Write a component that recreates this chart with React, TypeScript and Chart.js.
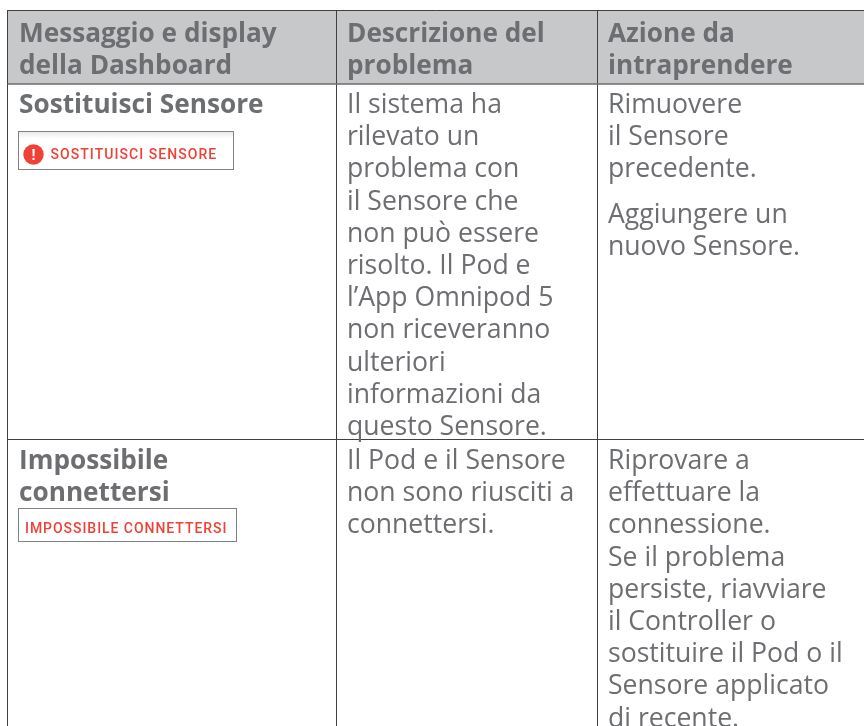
import React, { useEffect, useRef } from "react";
import { Chart, registerables } from "chart.js";

Chart.register(...registerables);

const headerLines = [
  ["Messaggio e display", "della Dashboard"],
  ["Descrizione del", "problema"],
  ["Azione da", "intraprendere"],
];
const row1Title = ["Sostituisci Sensore"];
const row1Description = [
  "Il sistema ha", "rilevato un", "problema con", "il Sensore che", "non può essere",
  "risolto. Il Pod e", "l’App Omnipod 5", "non riceveranno", "ulteriori",
  "informazioni da", "questo Sensore.",
];
const row1ActionA = ["Rimuovere", "il Sensore", "precedente."];
const row1ActionB = ["Aggiungere un", "nuovo Sensore."];
const row1Badge = "SOSTITUISCI SENSORE";
const row2Title = ["Impossibile", "connettersi"];
const row2Description = ["Il Pod e il Sensore", "non sono riusciti a", "connettersi."];
const row2Action = [
  "Riprovare a", "effettuare la", "connessione.", "Se il problema", "persiste, riavviare",
  "il Controller o", "sostituire il Pod o il", "Sensore applicato", "di recente.",
];
const row2Badge = "IMPOSSIBILE CONNETTERSI";

// Layout, in page pixels: the invisible linear axes below map 1:1 to the canvas.
const W = 864, H = 726;
const LEFT = 7.5, COL2 = 336.5, COL3 = 597.5, TOP = 10.5, HEAD = 84, ROW2 = 439.5;
const TX = [19, 347, 608];
const LH = 32.2;
const INK = "#6d6e71", RULE = "#3f4042", RED = "#ef4136";

const tablePlugin = {
  id: "tablePlugin",
  beforeDatasetsDraw(chart: any) {
    const { ctx, scales: { x, y } } = chart;
    ctx.save();
    ctx.fillStyle = "#c7c8ca";
    ctx.fillRect(x.getPixelForValue(LEFT), y.getPixelForValue(TOP), x.getPixelForValue(W) - x.getPixelForValue(LEFT), y.getPixelForValue(HEAD) - y.getPixelForValue(TOP));
    ctx.restore();
  },
  afterDatasetsDraw(chart: any) {
    const { ctx, scales: { x, y } } = chart;
    const block = (lines: string[], tx: number, base: number, weight: string) => {
      ctx.font = `${weight} ${weight === "700" ? 26.2 : 26.6}px "Open Sans"`;
      ctx.fillStyle = INK;
      ctx.textBaseline = "alphabetic";
      lines.forEach((t, i) => ctx.fillText(t, x.getPixelForValue(tx), y.getPixelForValue(base + i * LH)));
    };
    const badge = (label: string, bx: number, by: number, bw: number, bh: number, tx: number, base: number, spacing: string, shaded: boolean) => {
      const px = x.getPixelForValue(bx), py = y.getPixelForValue(by);
      ctx.fillStyle = "#ffffff";
      ctx.fillRect(px, py, bw, bh);
      if (shaded) {
        const g = ctx.createLinearGradient(0, py, 0, py + 7);
        g.addColorStop(0, "#e6e8e8");
        g.addColorStop(1, "#ffffff");
        ctx.fillStyle = g;
        ctx.fillRect(px, py, bw, 7);
      }
      ctx.strokeStyle = "#808285";
      ctx.lineWidth = 1;
      ctx.strokeRect(px, py, bw, bh);
      ctx.font = '500 14px Roboto';
      ctx.fillStyle = RED;
      ctx.letterSpacing = spacing;
      ctx.fillText(label, x.getPixelForValue(tx), y.getPixelForValue(base));
      ctx.letterSpacing = "0px";
    };
    ctx.save();
    headerLines.forEach((l, i) => block(l, TX[i], 42, "700"));
    block(row1Title, TX[0], 113, "700");
    block(row1Description, TX[1], 113, "400");
    block(row1ActionA, TX[2], 113, "400");
    block(row1ActionB, TX[2], 222.5, "400");
    block(row2Title, TX[0], 469, "700");
    block(row2Description, TX[1], 469, "400");
    block(row2Action, TX[2], 469, "400");
    badge(row1Badge, 18.5, 131.5, 215, 38, 50.5, 159, "1.05px", true);
    ctx.fillStyle = RED;
    ctx.beginPath();
    ctx.arc(x.getPixelForValue(33.5), y.getPixelForValue(154.5), 10.2, 0, Math.PI * 2);
    ctx.fill();
    ctx.fillStyle = "#ffffff";
    ctx.font = '700 15px Roboto';
    ctx.textAlign = "center";
    ctx.fillText("!", x.getPixelForValue(33.5), y.getPixelForValue(160));
    ctx.textAlign = "left";
    badge(row2Badge, 18.5, 508.5, 218, 33, 25, 532.5, "0.95px", false);
    ctx.restore();
  },
};

const seg = (a: number, b: number, c: number, d: number, color: string, w: number) => ({
  data: [{ x: a, y: b }, { x: c, y: d }],
  showLine: true,
  borderColor: color,
  borderWidth: w,
  pointRadius: 0,
  fill: false,
});

export default function App() {
  const ref = useRef<HTMLCanvasElement>(null);
  useEffect(() => {
    const chart = new Chart(ref.current!, {
      type: "scatter",
      data: {
        datasets: [
          seg(LEFT, TOP, W, TOP, RULE, 1),
          seg(LEFT, HEAD, W, HEAD, "#6d6e71", 1.5),
          seg(LEFT, ROW2, W, ROW2, RULE, 1),
          seg(LEFT, TOP, LEFT, H, RULE, 1),
          seg(COL2, TOP, COL2, H, RULE, 1),
          seg(COL3, TOP, COL3, H, RULE, 1),
        ],
      },
      options: {
        animation: false,
        responsive: false,
        devicePixelRatio: 1,
        layout: { padding: 0 },
        plugins: { legend: { display: false }, tooltip: { enabled: false } },
        scales: {
          x: { type: "linear", display: false, min: 0, max: W },
          y: { type: "linear", display: false, min: 0, max: H, reverse: true },
        },
      },
      plugins: [tablePlugin],
    } as any);
    return () => chart.destroy();
  }, []);
  return (
    <div style={{ position: "fixed", left: 0, top: 0, width: W, height: H, background: "#fff" }}>
      <canvas ref={ref} width={W} height={H} style={{ display: "block" }} />
    </div>
  );
}
